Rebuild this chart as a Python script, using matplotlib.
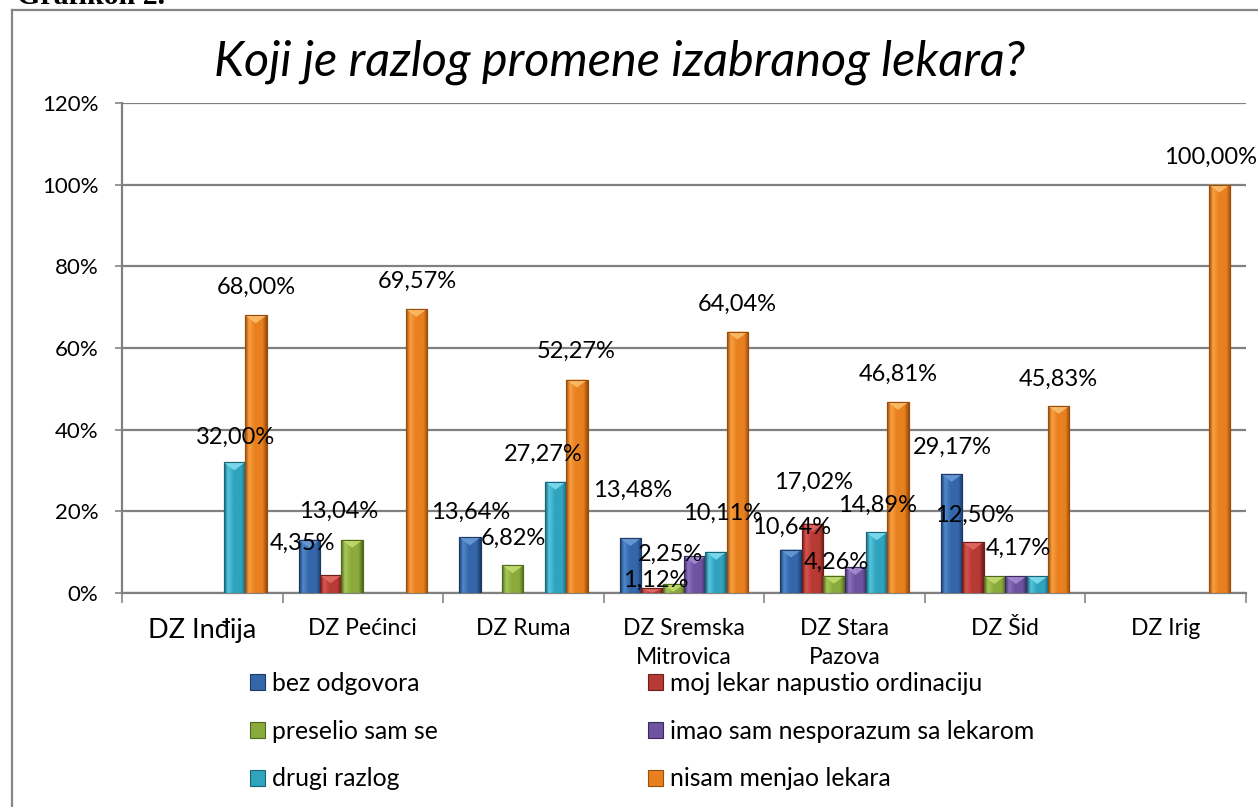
import matplotlib
matplotlib.use("Agg")
import matplotlib.pyplot as plt
import numpy as np
from matplotlib.colors import LinearSegmentedColormap
from matplotlib.patches import Rectangle, Polygon
from matplotlib.lines import Line2D

# ---------------- data ----------------
categories = ["DZ Inđija", "DZ Pećinci", "DZ Ruma", "DZ Sremska\nMitrovica",
              "DZ Stara\nPazova", "DZ Šid", "DZ Irig"]
series_names = ["bez odgovora", "moj lekar napustio ordinaciju", "preselio sam se",
                "imao sam nesporazum sa lekarom", "drugi razlog", "nisam menjao lekara"]
bez_odgovora = [0, 13.04, 13.64, 13.48, 10.64, 29.17, 0]
moj_lekar = [0, 4.35, 0, 1.12, 17.02, 12.50, 0]
preselio = [0, 13.04, 6.82, 2.25, 4.26, 4.17, 0]
nesporazum = [0, 0, 0, 8.99, 6.38, 4.17, 0]
drugi_razlog = [32.00, 0, 27.27, 10.11, 14.89, 4.17, 0]
nisam_menjao = [68.00, 69.57, 52.27, 64.04, 46.81, 45.83, 100.00]
values = [bez_odgovora, moj_lekar, preselio, nesporazum, drugi_razlog, nisam_menjao]
yticks = [0, 20, 40, 60, 80, 100, 120]
ytick_labels = ["0%", "20%", "40%", "60%", "80%", "100%", "120%"]

# visible data labels: (series, category, dx px, dy px above bar top)
labels = [(4, 0, 1, 25), (5, 0, 1, 28),
          (1, 1, -28, 32), (2, 1, -14, 28), (5, 1, 1, 28),
          (0, 2, 1, 25), (2, 2, 1, 27), (4, 2, -12, 27), (5, 2, -1, 28),
          (0, 3, 2, 48), (1, 3, 4, 8), (2, 3, -3, 29), (4, 3, 7, 38), (5, 3, 0, 27),
          (0, 4, 1, 22), (1, 4, 1, 41), (2, 4, 3, 13), (4, 4, 1, 27), (5, 4, 0, 28),
          (0, 5, 1, 27), (1, 5, 2, 27), (3, 5, 3, 28), (5, 5, 0, 27),
          (5, 6, -9, 27)]

# ---------------- style ----------------
W, H = 1258, 807
FONT = "Lato"
base = ["#3466aa", "#b83a35", "#8aab3c", "#6e54a0", "#30a3bd", "#e8801f"]
dark = ["#1c3a66", "#6e1c19", "#4f6a1c", "#3a2a5e", "#1a6475", "#9a4c0c"]
light = ["#5089cc", "#d8544f", "#a8c859", "#8e72c0", "#55c6df", "#f9a040"]
capc = ["#6a9ad6", "#e06a64", "#c2dc6e", "#a68ad2", "#7fdcf0", "#fbbd6a"]

fig = plt.figure(figsize=(W / 100, H / 100), dpi=100)
ax = fig.add_axes([122 / W, 1 - 593 / H, (1246 - 122) / W, (593 - 103) / H])

n = len(values)
gap = 1.5
w = 1.0 / (n + gap)
x = np.arange(len(categories))
grad = np.linspace(0, 1, 64).reshape(1, -1)
px_per_y = (593 - 103) / 120.0
cap_h = 8 / px_per_y

containers = []
for i, vals in enumerate(values):
    cont = ax.bar(x + (i - (n - 1) / 2) * w, vals, width=w, color=base[i],
                  edgecolor=dark[i], linewidth=0.8, zorder=3)
    containers.append(cont)
    cmap = LinearSegmentedColormap.from_list(
        f"g{i}", [(0, dark[i]), (0.18, light[i]), (0.45, base[i]), (0.8, base[i]), (1, dark[i])])
    for b in cont:
        h = b.get_height()
        if h <= 0:
            b.set_linewidth(0)
            continue
        x0, bw = b.get_x(), b.get_width()
        im = ax.imshow(grad, cmap=cmap, extent=[x0, x0 + bw, 0, h], aspect="auto",
                       zorder=3.2, interpolation="bilinear")
        im.set_clip_path(b)
        ch = min(cap_h, h)
        ax.add_patch(Polygon([[x0, h], [x0 + bw, h], [x0 + bw / 2, h - ch]], closed=True,
                             facecolor=capc[i], edgecolor="none", zorder=3.4, alpha=0.9))
        ax.add_patch(Rectangle((x0, 0), bw, h, fill=False, edgecolor=dark[i],
                               linewidth=0.8, zorder=3.5))

# data labels
for (si, ci, dx, dy) in labels:
    b = containers[si][ci]
    v = values[si][ci]
    txt = f"{v:.2f}%".replace(".", ",")
    ax.annotate(txt, (b.get_x() + b.get_width() / 2, b.get_height()),
                xytext=(dx * 0.72, dy * 0.72), textcoords="offset points",
                ha="center", va="center", fontsize=17, family=FONT, color="black", zorder=6)

ax.set_xlim(-0.5, len(categories) - 0.5)
ax.set_ylim(0, 120)
ax.set_yticks(yticks)
ax.set_yticklabels(ytick_labels, fontsize=16, family=FONT)
ax.tick_params(axis="y", length=5, width=1.2, color="#868686", pad=12)
ax.yaxis.grid(True, color="#808080", linewidth=1.6, zorder=0)
ax.set_axisbelow(True)

ax.set_xticks(x)
ax.set_xticklabels(categories, fontsize=16.5, family=FONT, linespacing=1.5)
for t in ax.get_xticklabels():
    if t.get_text() == "DZ Inđija":
        t.set_fontsize(19.5)
ax.tick_params(axis="x", length=0, pad=18)
ax.set_xticks(np.arange(-0.5, len(categories)), minor=True)
ax.tick_params(axis="x", which="minor", length=7, width=1.2, color="#868686")

for s in ["top", "right"]:
    ax.spines[s].set_visible(False)
for s in ["left", "bottom"]:
    ax.spines[s].set_color("#808080")
    ax.spines[s].set_linewidth(1.6)

# title
fig.text(620 / W, 1 - 76 / H, "Koji je razlog promene izabranog lekara?", ha="center",
         va="baseline", fontsize=35, style="italic", family=FONT)

# legend (two columns)
handles = [Rectangle((0, 0), 1, 1, facecolor=base[i], edgecolor=dark[i], linewidth=0.8)
           for i in range(n)]
col1 = [0, 2, 4]
col2 = [1, 3, 5]
common = dict(frameon=False, handlelength=0.62, handleheight=0.62,
              handletextpad=0.25, labelspacing=1.0, borderpad=0, borderaxespad=0,
              prop={"family": FONT, "size": 17.8})
leg1 = fig.legend([handles[i] for i in col1], [series_names[i] for i in col1],
                  loc="upper left", bbox_to_anchor=(250 / W, 1 - 672 / H), **common)
leg2 = fig.legend([handles[i] for i in col2], [series_names[i] for i in col2],
                  loc="upper left", bbox_to_anchor=(648 / W, 1 - 672 / H), **common)

# outer chart frame
fig.add_artist(Line2D([12 / W, 12 / W], [0, 1 - 10 / H], transform=fig.transFigure,
                      color="#868686", linewidth=1.6))
fig.add_artist(Line2D([12 / W, 1], [1 - 10 / H, 1 - 10 / H], transform=fig.transFigure,
                      color="#868686", linewidth=1.6))

# document caption (cut off at the top, as in the source page)
fig.text(17 / W, 1 - 4 / H, "Grafikon 2.", ha="left", va="baseline", fontsize=21.5,
         fontweight="bold", family="Liberation Serif")

fig.savefig("out.png", dpi=100)
